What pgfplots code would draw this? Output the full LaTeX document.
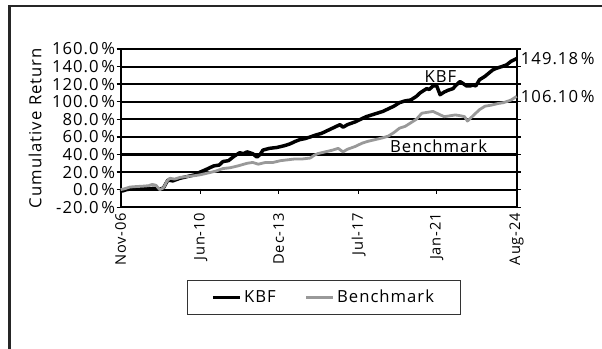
\documentclass[border=0pt]{standalone}
\usepackage{pgfplots}
\pgfplotsset{compat=1.18}
\usepackage{fontspec}
\setmainfont{Open Sans}[LetterSpace=6]
\definecolor{bench}{rgb}{0.6,0.6,0.6}
\begin{document}
\begin{tikzpicture}[font=\fontsize{12.5}{14}\selectfont]
\path[use as bounding box] (0,0) rectangle (451.5pt,261.75pt);
\draw[line width=1.8pt, black!85] (7.1pt,0pt) -- (7.1pt,257.2pt) -- (451.5pt,257.2pt);
\begin{axis}[
  at={(90.5pt,106.3pt)}, anchor=south west,
  scale only axis, width=297pt, height=118.7pt,
  xmin=0, xmax=213, ymin=-20, ymax=160,
  clip=false,
  /pgf/number format/assume math mode=true,
  axis line style={black, line width=1.6pt},
  ytick={-20,0,20,40,60,80,100,120,140,160},
  yticklabel={\pgfmathprintnumber[fixed,fixed zerofill,precision=1]{\tick}\,\%},
  yticklabel style={inner xsep=1pt},
  ymajorgrids, major grid style={black, line width=1.6pt},
  tick align=outside, major tick length=3pt,
  ytick style={black, line width=1pt},
  xtick={0,43,85,128,170,213},
  xticklabels={Nov-06,Jun-10,Dec-13,Jul-17,Jan-21,Aug-24},
  xtick style={draw=none},
  xticklabel style={rotate=90, anchor=east, font=\fontsize{11}{12}\selectfont, inner xsep=1pt},
  ylabel={Cumulative Return},
  ylabel style={at={(axis description cs:-0.216,0.5)}, anchor=center},
  legend columns=2,
  legend style={at={(axis description cs:0.5134,-0.570)}, anchor=center,
    draw=black!80, line width=0.9pt, fill=white, inner xsep=18pt, inner ysep=6pt,
    nodes={inner xsep=2pt, inner ysep=1pt},
    /tikz/every even column/.append style={column sep=20pt}},
  legend image code/.code={\draw[#1] (0pt,0pt) -- (20pt,0pt);},
]
\addplot[black, line width=2.6pt, line join=round] coordinates {
(0,0) (1,-1.5) (3,0) (6,1) (10,1.5) (14,1) (18,1.5) (21,0.5) (23,2) (25.4,11) (28,10) (32,13) (36,15) (40,17) (42.7,20) (46,23) (50,27) (53,28) (55,32) (58,33) (61,38) (64,42) (66,41) (68,43) (71,41) (73.3,37) (75,40) (76.5,45) (80,47) (84,48) (88,50) (91,52) (94,55) (96.5,57) (99,58) (102,60) (105.4,62.5) (108,64) (111,67) (114,70) (116,72) (118,74) (119.6,71) (122,74) (126,77) (129,80) (132,83) (135,85) (138,87) (141,89) (144,92) (147,95) (150,99) (153,101) (156,102) (159,106) (161,110) (164.6,115) (166,114) (168,118) (170,118) (171.8,108) (174,111) (176,113) (178.8,115) (180,118) (182.5,123) (184,121) (186,118) (188,118) (189.5,119) (191,118) (193,125) (196,129) (200,136) (202,138) (205,140) (207.6,142) (210,146) (213,149.18)
};
\addlegendentry{KBF}
\addplot[bench, line width=2.1pt, line join=round] coordinates {
(0,0) (2,1) (5,3) (8,3.5) (12,4) (15,4.5) (17,6) (19,5) (21,0) (23,2) (25,10) (26.5,13) (29,12) (32,14) (36,15) (40,16) (43,17) (47,19) (51,21) (55,24) (59,25) (63,27) (68,30) (71,31) (74,29) (78,31) (82,31) (86,33) (90,34) (94,35) (98,35) (102,36) (104,39) (106,41) (110,43) (114,45) (117,47) (119.6,43) (122,46) (126,49) (130,53) (133,55) (137,57) (141,59) (144,61) (147,65) (150,70) (153,72) (156,76) (159,80) (162,87) (165,88) (168,89) (171,86) (174,83) (177,84) (180,85) (183,84) (185,83) (186.5,78) (188,81) (190,85) (193,91) (196,95) (199,96) (203,98) (206,99) (210,102) (213,106.1)
};
\addlegendentry{Benchmark}
\pgfplotsinvokeforeach{43,85,128,170,213}{
  \draw[black, line width=1pt] (axis cs:#1,1) -- (axis cs:#1,-5);
}
\node[inner sep=0pt] at (axis cs:172,128.8) {KBF};
\node[inner sep=0pt] at (axis cs:171,49.7) {Benchmark};
\node[inner sep=0pt, anchor=west, xshift=3pt] at (axis cs:213,149.18) {149.18\,\%};
\node[inner sep=0pt, anchor=west, xshift=3pt] at (axis cs:213,106.1) {106.10\,\%};
\end{axis}
\end{tikzpicture}
\end{document}
